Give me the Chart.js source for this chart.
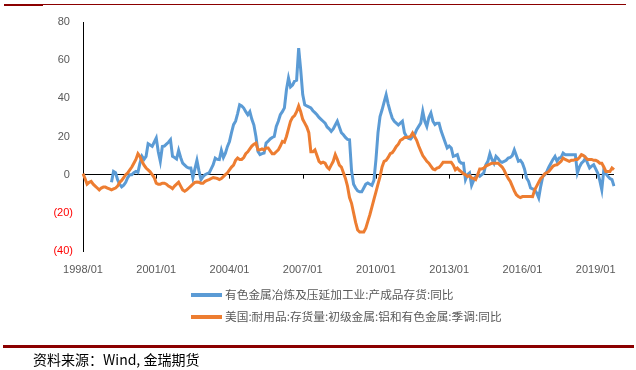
<!DOCTYPE html>
<html>
<head>
<meta charset="utf-8">
<script src="https://cdn.jsdelivr.net/npm/chart.js@4.4.0/dist/chart.umd.min.js"></script>
<style>
  body { margin: 0; background: #fff; }
  #wrap { position: relative; width: 636px; height: 370px; overflow: hidden; }
  #chart { position: absolute; left: 0; top: 0; }
  .bar { position: absolute; background: #8b0000; }
  .leg { position: absolute; left: 191px; font: 11.7px "Noto Sans CJK SC", sans-serif; color: #595959; white-space: nowrap; }
  .leg i { display: inline-block; width: 31px; height: 4px; vertical-align: middle; margin-right: 3px; position: relative; top: -1px; }
  #src { position: absolute; left: 33px; top: 349px; font: 14px "Noto Sans CJK SC", sans-serif; color: #000; }
</style>
</head>
<body>
<div id="wrap">
  <canvas id="chart" width="636" height="370"></canvas>
  <div class="bar" style="left:4px;top:4px;width:39px;height:2px"></div>
  <div class="bar" style="left:43px;top:4px;width:583px;height:1px"></div>
  <div class="leg" style="top:285px"><i style="background:#5b9bd5"></i>有色金属冶炼及压延加工业:产成品存货:同比</div>
  <div class="leg" style="top:307px"><i style="background:#ed7d31"></i>美国:耐用品:存货量:初级金属:铝和有色金属:季调:同比</div>
  <div class="bar" style="left:3px;top:345px;width:631px;height:3px"></div>
  <div id="src">资料来源：Wind, 金瑞期货</div>
</div>
<script>
// monthly, 1998/01 - 2019/10
var months = [];
for (var y = 1998; y <= 2019; y++) {
    for (var m = 1; m <= 12; m++) {
        if (y == 2019 && m > 10) break;
        months.push(y + "/" + (m < 10 ? "0" + m : m));
    }
}

// 有色金属冶炼及压延加工业:产成品存货:同比
var cnInventory = [
    null, null, null, null, null, null, null, null, null, null, null, null,
    null, null, -4, 1.7, 1, -2.6, -5, -6.4, -5.5, -4, -1.5, 0,
    0, 1, 1.7, 1.2, 6, 9.6, 8, 9.6, 16.2, 15.5, 14.8, 17,
    19.2, 12, 7, 14.8, 15, 16, 17, 18.3, 9.6, 9, 8.2, 12.7,
    9, 6, 5, 4, 3.5, 3.5, -1.7, 3, 7.5, 2, -2.6, -1,
    0, 0.5, 0.9, 3, 5.2, 8.7, 8, 7.9, 12.7, 9, 11.3, 14.8,
    17.4, 22, 26.2, 28, 32, 36.6, 36, 34.9, 33, 31.4, 33, 29,
    26, 20, 12.2, 10.5, 11, 11.3, 16.6, 17.5, 18.7, 19.5, 20, 25.3,
    28, 31.4, 33, 35, 44.5, 50.6, 46, 47, 49, 49.5, 66.3, 55,
    42, 36.6, 36, 35.5, 35, 33.5, 32.5, 31.4, 30, 29, 28, 27,
    25, 24, 22.7, 24, 26, 28, 25, 22, 20.9, 19.5, 18.5, 18.3,
    2, -5, -7, -8.5, -9, -9, -7, -5, -4.4, -5, -5.6, -3,
    8, 22, 30.5, 34, 38, 41.9, 37, 33, 29.7, 28, 27, 26,
    27, 28, 22, 20, 19, 18.7, 20, 21, 23.6, 25.3, 27, 33.2,
    28, 25.3, 30, 32.3, 28, 26.2, 27, 27, 23, 20, 17, 14,
    15, 14, 9.6, 10, 10.5, 7, 6, 6, -2.6, 0, 0.9, -5.6,
    -3, -1, 0, -0.9, 0, 0.9, 5.2, 7, 11, 8, 6, 9.6,
    8.5, 7, 6.5, 7, 7.5, 8.7, 9, 10, 13, 10, 7, 7.5,
    6, 3, -1.7, -3.5, -7, -7.5, -8, -9.6, -12.2, -6, -0.9, 0,
    1.7, 4, 6, 8, 9.6, 7, 8.7, 9, 11.3, 10.5, 10.5, 10.5,
    10.5, 10.5, 10.5, 0.9, 4, 6, 7, 8.7, 6, 3.5, 4.5, 5.2,
    3, 0.9, -3, -7.9, 2.6, 0.5, -0.9, -2, -2.6, -6
];

// 美国:耐用品:存货量:初级金属:铝和有色金属:季调:同比
var usInventory = [
    0.5, -2, -5, -4, -3.5, -5, -6, -7, -8, -7, -6.5, -6.5,
    -7, -7.5, -8, -7.5, -7, -6, -4, -3, -1.5, 0, 1, 2.5,
    4, 6, 8, 11, 9.5, 7, 5, 3.5, 2.5, 1.5, 0, -1.5,
    -4.5, -5, -5, -4.5, -4.5, -5, -6, -6.5, -7.3, -6, -5, -4,
    -6, -8, -8.7, -8, -7, -6, -5, -4, -3.8, -4, -4.5, -4.5,
    -3.5, -3, -2.6, -2, -1.5, -1.7, -2, -2.6, -2, -1, 0, 1,
    2.5, 4, 5, 7.5, 8.7, 8, 8, 9, 11, 12, 13.5, 15,
    16, 16.5, 13, 13, 13.5, 13, 14, 14, 12.5, 11, 11, 12,
    13, 15, 17.4, 17, 20, 24, 28, 30, 31, 33, 36, 33,
    29, 27, 25, 22, 12, 12, 13, 10, 7, 6, 6.5, 6,
    4, 3, 5, 7, 10.5, 8, 5, 4, 1, -2, -6, -12,
    -15, -20, -25, -29, -30, -30, -30, -28, -24.5, -21, -17, -13,
    -9, -5, -1, 4, 7, 7.5, 9, 11, 11.5, 13, 14.8, 16,
    18, 18.6, 19.5, 19.5, 19.7, 20, 21.8, 20, 18, 15, 12.5, 10,
    8.5, 7, 6, 4.5, 3, 2.6, 3.5, 3.8, 5, 6.5, 6.5, 6.5,
    6.5, 6.5, 5, 2.6, 3.5, 2.3, 1.5, 0.5, 0, -1, -0.5, -1.7,
    -2, -2.6, 0, 3, 3, 3.5, 4.5, 5, 5.5, 6, 6, 6,
    6, 5, 4, 2.3, 0, -2, -3.5, -6, -8.5, -10.5, -11.5, -12,
    -11.5, -11.5, -11.4, -11.5, -11.4, -11.5, -8, -6, -4, -2, -1, 0.5,
    1, 1.7, 3, 4.4, 5, 5.2, 6, 7, 8.7, 8, 7.5, 7,
    7.5, 7.5, 8, 8, 9, 10.5, 10, 9, 8, 8, 8, 7.5,
    7.5, 7, 6, 6, 4, 1.7, 1.7, 1.7, 3.5, 2.6
];

var yTicks = [80, 60, 40, 20, 0, -20, -40];
var tickEvery = 36; // one label every 3 years

// small tick marks hanging under the zero line
var zeroTicks = {
    id: 'zeroTicks',
    beforeDatasetsDraw: function (chart) {
        var ctx = chart.ctx;
        var xs = chart.scales.x;
        var y0 = chart.scales.y.getPixelForValue(0);
        ctx.save();
        ctx.strokeStyle = '#000';
        ctx.lineWidth = 1;
        ctx.beginPath();
        for (var i = 0; i < months.length; i += tickEvery) {
            var px = Math.round(xs.getPixelForValue(i)) + 0.5;
            ctx.moveTo(px, y0);
            ctx.lineTo(px, y0 + 4);
        }
        ctx.stroke();
        ctx.restore();
    }
};

var ctx = document.getElementById("chart");
var chart = new Chart(ctx, {
    type: 'line',
    data: {
        labels: months,
        datasets: [
            {
                label: '有色金属冶炼及压延加工业:产成品存货:同比',
                data: cnInventory,
                borderColor: '#5b9bd5',
                borderWidth: 3,
                pointRadius: 0,
                order: 1
            },
            {
                label: '美国:耐用品:存货量:初级金属:铝和有色金属:季调:同比',
                data: usInventory,
                borderColor: '#ed7d31',
                borderWidth: 3,
                pointRadius: 0,
                order: 0
            }
        ]
    },
    options: {
        responsive: false,
        animation: false,
        devicePixelRatio: 1,
        layout: { padding: { left: 0, right: 22, top: 22, bottom: 0 } },
        plugins: {
            legend: { display: false },
            tooltip: { enabled: false }
        },
        scales: {
            x: {
                type: 'category',
                offset: false,
                grid: { display: false },
                border: { display: false },
                afterFit: function (s) { s.height = 119; },
                ticks: {
                    autoSkip: false,
                    maxRotation: 0,
                    padding: 4,
                    color: '#595959',
                    font: { family: 'Liberation Sans', size: 11 },
                    callback: function (v, i) {
                        return i % tickEvery === 0 ? months[i] : null;
                    }
                }
            },
            y: {
                min: -40,
                max: 80,
                afterFit: function (s) { s.width = 83; },
                afterBuildTicks: function (s) {
                    s.ticks = yTicks.map(function (v) { return { value: v }; });
                },
                border: { display: true, color: '#000', width: 1 },
                grid: {
                    drawTicks: false,
                    color: function (c) {
                        return c.tick && c.tick.value === 0 ? '#000' : 'rgba(0,0,0,0)';
                    }
                },
                ticks: {
                    padding: 10,
                    font: { family: 'Liberation Sans', size: 11 },
                    color: function (c) {
                        return c.tick.value < 0 ? '#ff0000' : '#595959';
                    },
                    callback: function (v) {
                        return v < 0 ? '(' + Math.abs(v) + ')' : v + ' ';
                    }
                }
            }
        }
    },
    plugins: [zeroTicks]
});
</script>
</body>
</html>
